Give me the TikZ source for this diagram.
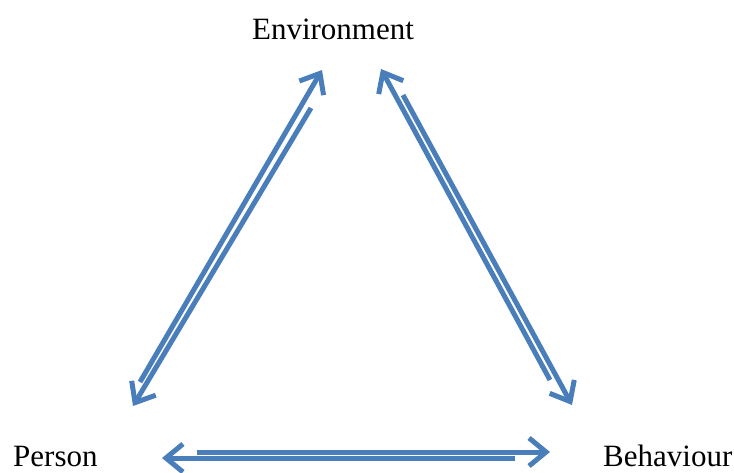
\documentclass[tikz,border=0pt]{standalone}
\usepackage{fontspec}
\setmainfont{Liberation Serif}
\usepackage{tikz}
\usetikzlibrary{arrows.meta}
\definecolor{linkblue}{RGB}{74,126,187}

\begin{document}
\begin{tikzpicture}[x=1pt,y=-1pt]
			\tikzset{
				label/.style={inner sep=0pt, font=\fontsize{31}{36}\selectfont},
				link/.style={draw=linkblue, line width=5pt, -{Straight Barb[length=17pt,width=28pt]}}
			}
			\useasboundingbox (0,0) rectangle (734,472);
			% corners
			\node[label, anchor=base] (env) at (333,39) {Environment};
			\node[label, anchor=base west] (per) at (13,466) {Person};
			\node[label, anchor=base west] (beh) at (603,466) {Behaviour};
			% arrow ends
			\coordinate (pe-a) at (140,382);
			\coordinate (pe-b) at (322,70);
			\coordinate (ep-a) at (311,108);
			\coordinate (ep-b) at (133,406);
			\coordinate (be-a) at (550,380);
			\coordinate (be-b) at (381,69);
			\coordinate (eb-a) at (403,95);
			\coordinate (eb-b) at (572,405);
			\coordinate (pb-a) at (197,452);
			\coordinate (pb-b) at (550,452);
			\coordinate (bp-a) at (515,458);
			\coordinate (bp-b) at (162,458);
			% links
			\draw[link] (pe-a) -- (pe-b);
			\draw[link] (ep-a) -- (ep-b);
			\draw[link] (be-a) -- (be-b);
			\draw[link] (eb-a) -- (eb-b);
			\draw[link] (pb-a) -- (pb-b);
			\draw[link] (bp-a) -- (bp-b);
		\end{tikzpicture}
\end{document}
